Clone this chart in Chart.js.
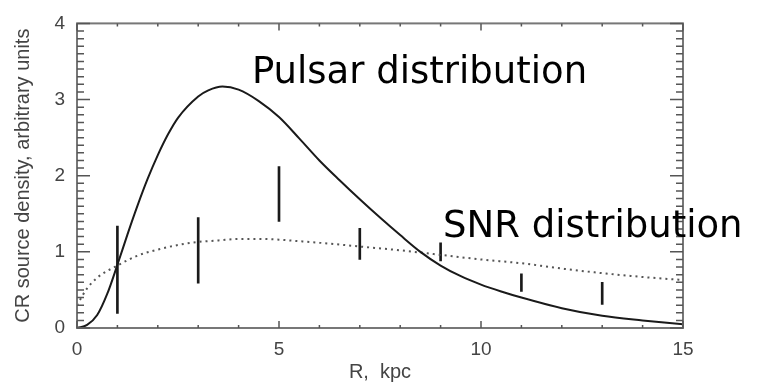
<!DOCTYPE html>
<html>
<head>
<meta charset="utf-8">
<script src="https://cdn.jsdelivr.net/npm/chart.js@4/dist/chart.umd.min.js"></script>
<style>
  html, body { margin: 0; padding: 0; background: #ffffff; }
  #cuadroGrafico { display: block; }
</style>
</head>
<body>
<canvas id="cuadroGrafico" width="759" height="391"></canvas>
<script>

// curva de pulsares (linea continua)
var radioPulsar = [0, 0.25, 0.5, 0.75, 1, 1.25, 1.5, 1.75, 2, 2.25, 2.5, 3, 3.25, 3.6, 4, 4.5, 5, 5.5, 6, 6.5, 7, 7.5, 8, 8.5, 9, 9.5, 10, 10.5, 11, 12, 13, 14, 15];
var valorPulsar = [0, 0.04, 0.17, 0.45, 0.83, 1.23, 1.61, 1.96, 2.27, 2.54, 2.76, 3.04, 3.12, 3.17, 3.13, 2.98, 2.77, 2.49, 2.2, 1.94, 1.69, 1.45, 1.22, 1.0, 0.82, 0.68, 0.57, 0.48, 0.40, 0.26, 0.16, 0.10, 0.05];

// curva de SNR (linea punteada)
var radioSnr = [0, 0.25, 0.5, 1, 1.5, 2, 2.5, 3, 3.5, 4, 4.5, 5, 5.5, 6, 7, 8, 9, 10, 11, 12, 13, 14, 15];
var valorSnr = [0.3, 0.52, 0.66, 0.82, 0.95, 1.03, 1.09, 1.13, 1.15, 1.17, 1.17, 1.16, 1.14, 1.12, 1.07, 1.02, 0.96, 0.90, 0.85, 0.78, 0.72, 0.67, 0.63];

// barras de error (solo el tramo vertical)
var radioError = [1, 3, 5, 7, 9, 11, 13];
var errorBajo = [0.19, 0.59, 1.40, 0.90, 0.88, 0.48, 0.31];
var errorAlto = [1.34, 1.45, 2.12, 1.31, 1.12, 0.71, 0.60];

// etiquetas de los ejes
var marcasX = [0, 5, 10, 15];
var marcasY = [0, 1, 2, 3, 4];

// textos sobre el grafico: [texto, R, valor]
var rotulos = [
  ['Pulsar distribution', 4.33, 3.22],
  ['SNR distribution', 9.06, 1.20]
];


function juntar (xs, ys) {
    var puntos = [];
    for (var i = 0; i < xs.length; i++) {
        puntos.push({x: xs[i], y: ys[i]});
    }
    return puntos;
}

var barrasError = [];
for (var i = 0; i < radioError.length; i++) {
    barrasError.push({x: radioError[i], y: [errorBajo[i], errorAlto[i]]});
}


// marco con las rayitas hacia dentro, estilo IDL
var marcoIdl = {
    id: 'marcoIdl',
    afterDatasetsDraw: function (chart) {
        var ctx = chart.ctx;
        var area = chart.chartArea;
        var ejeX = chart.scales.x;
        var ejeY = chart.scales.y;

        ctx.save();
        ctx.strokeStyle = '#777';
        ctx.lineWidth = 2;
        ctx.strokeRect(area.left, area.top, area.right - area.left, area.bottom - area.top);

        ctx.strokeStyle = '#555';
        ctx.lineWidth = 1.5;
        ctx.beginPath();
        for (var v = 0; v <= 15; v++) {
            var px = ejeX.getPixelForValue(v);
            var largo = (v % 5 === 0) ? 7 : 3;
            ctx.moveTo(px, area.bottom);
            ctx.lineTo(px, area.bottom - largo);
            ctx.moveTo(px, area.top);
            ctx.lineTo(px, area.top + largo);
        }
        for (var k = 0; k <= 40; k++) {
            var py = ejeY.getPixelForValue(k / 10);
            var largoY = (k % 10 === 0) ? 13 : 7;
            ctx.moveTo(area.left, py);
            ctx.lineTo(area.left + largoY, py);
            ctx.moveTo(area.right, py);
            ctx.lineTo(area.right - largoY, py);
        }
        ctx.stroke();
        ctx.restore();
    },
    afterDraw: function (chart) {
        var ctx = chart.ctx;
        ctx.save();
        ctx.fillStyle = '#000';
        ctx.font = '37px "DejaVu Sans"';
        ctx.textBaseline = 'alphabetic';
        ctx.textAlign = 'left';
        for (var i = 0; i < rotulos.length; i++) {
            ctx.fillText(rotulos[i][0],
                chart.scales.x.getPixelForValue(rotulos[i][1]),
                chart.scales.y.getPixelForValue(rotulos[i][2]));
        }
        ctx.restore();
    }
};


function generarGrafico () {

    var cuadroGrafico = document.getElementById('cuadroGrafico');
    var fuenteMarca = {family: '"Liberation Sans", Arial, sans-serif', size: 19};
    var fuenteTitulo = {family: '"Liberation Sans", Arial, sans-serif', size: 20};

    var datosImprimir = {
        datasets: [{
            label: 'Pulsar',
            data: juntar(radioPulsar, valorPulsar),
            borderColor: '#1a1a1a',
            borderWidth: 2,
            pointRadius: 0,
            cubicInterpolationMode: 'monotone',
            fill: false
        }, {
            label: 'SNR',
            data: juntar(radioSnr, valorSnr),
            borderColor: '#555',
            borderWidth: 2,
            borderDash: [2, 4],
            pointRadius: 0,
            cubicInterpolationMode: 'monotone',
            fill: false
        }, {
            type: 'bar',
            label: 'error',
            data: barrasError,
            backgroundColor: '#1a1a1a',
            borderWidth: 0,
            barThickness: 2
        }]
    };

    var lineChart = new Chart(cuadroGrafico, {
        type: 'line',
        data: datosImprimir,
        options: {
            responsive: false,
            animation: false,
            devicePixelRatio: 1,
            layout: {padding: {left: 0, right: 76, top: 11, bottom: 0}},
            plugins: {
                legend: {display: false},
                tooltip: {enabled: false}
            },
            scales: {
                x: {
                    type: 'linear',
                    min: 0,
                    max: 15,
                    offset: false,
                    grid: {display: false, drawTicks: false},
                    border: {display: false},
                    afterBuildTicks: function (eje) {
                        eje.ticks = marcasX.map(function (v) { return {value: v}; });
                    },
                    afterFit: function (eje) { eje.height = 63; },
                    ticks: {color: '#444', font: fuenteMarca, padding: 10, maxRotation: 0},
                    title: {
                        display: true,
                        text: 'R,  kpc',
                        color: '#444',
                        font: fuenteTitulo,
                        padding: {top: 0, bottom: 7}
                    }
                },
                y: {
                    type: 'linear',
                    min: 0,
                    max: 4,
                    grid: {display: false, drawTicks: false},
                    border: {display: false},
                    afterBuildTicks: function (eje) {
                        eje.ticks = marcasY.map(function (v) { return {value: v}; });
                    },
                    afterFit: function (eje) { eje.width = 77; },
                    ticks: {color: '#444', font: fuenteMarca, padding: 12},
                    title: {
                        display: true,
                        text: 'CR source density, arbitrary units',
                        color: '#444',
                        font: fuenteTitulo,
                        padding: {top: 11, bottom: 0}
                    }
                }
            }
        },
        plugins: [marcoIdl]
    });

}

generarGrafico();

</script>
</body>
</html>
